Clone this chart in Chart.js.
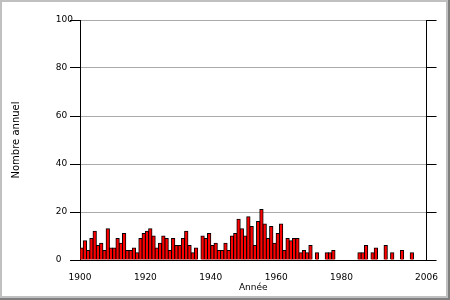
<!DOCTYPE html>
<html>
<head>
<meta charset="utf-8">
<script src="https://cdn.jsdelivr.net/npm/chart.js@4/dist/chart.umd.min.js"></script>
<style>
  html, body { margin: 0; padding: 0; background: #ffffff; }
  canvas { display: block; }
</style>
</head>
<body>
<canvas id="c" width="450" height="300"></canvas>
<script>
// Years with a non-zero count (all other years are 0)
const years = [1900,1901,1902,1903,1904,1905,1906,1907,1908,1909,
               1910,1911,1912,1913,1914,1915,1916,1917,1918,1919,
               1920,1921,1922,1923,1924,1925,1926,1927,1928,1929,
               1930,1931,1932,1933,1934,1935,1937,1938,1939,
               1940,1941,1942,1943,1944,1945,1946,1947,1948,1949,
               1950,1951,1952,1953,1954,1955,1956,1957,1958,1959,
               1960,1961,1962,1963,1964,1965,1966,1967,1968,1969,
               1970,1972,1975,1976,1977,
               1985,1986,1987,1989,1990,1993,1995,1998,2001];
const counts = [5,8,4,9,12,6,7,4,13,5,
                5,9,7,11,4,4,5,3,9,11,
                12,13,10,5,7,10,9,4,9,6,
                6,9,12,6,3,5,10,9,11,
                6,7,4,4,7,4,10,11,17,13,
                10,18,14,6,16,21,15,9,14,7,
                11,15,4,9,8,9,9,3,4,3,
                6,3,3,3,4,
                3,3,6,3,5,6,3,4,3];
const xTickLabels = [1900, 1920, 1940, 1960, 1980, 2006];
const yTickLabels = [0, 20, 40, 60, 80, 100];
const xTitle = 'Année';
const yTitle = 'Nombre annuel';

const points = years.map((y, i) => ({ x: y + 0.5, y: counts[i] }));

const framePlugin = {
  id: 'frame',
  beforeDraw(chart) {
    const ctx = chart.ctx;
    const W = chart.width, H = chart.height;
    ctx.save();
    ctx.fillStyle = '#ffffff';
    ctx.fillRect(0, 0, W, H);
    ctx.fillStyle = '#c0c0c0';
    ctx.fillRect(0, 0, W, 2);
    ctx.fillRect(0, 0, 2, H);
    ctx.fillRect(W - 4, 0, 2, H);
    ctx.fillRect(0, H - 4, W, 2);
    ctx.fillStyle = '#7f7f7f';
    ctx.fillRect(W - 2, 0, 2, H);
    ctx.fillRect(0, H - 2, W, 2);
    ctx.restore();
  }
};

const small = { family: 'DejaVu Sans', size: 9 };

new Chart(document.getElementById('c'), {
  type: 'bar',
  data: {
    datasets: [{
      data: points,
      backgroundColor: '#ff0000',
      borderColor: '#000000',
      borderWidth: 1,
      inflateAmount: 0.5,
      barPercentage: 1,
      categoryPercentage: 1,
      yAxisID: 'y'
    }]
  },
  options: {
    responsive: false,
    animation: false,
    devicePixelRatio: 1,
    layout: { padding: { top: 20, left: 0, right: 0, bottom: 0 } },
    plugins: { legend: { display: false }, tooltip: { enabled: false } },
    scales: {
      x: {
        type: 'linear',
        min: 1900,
        max: 2006,
        offset: false,
        grid: { display: false, drawTicks: false },
        border: { display: true, color: '#000000', width: 1 },
        afterBuildTicks: (s) => { s.ticks = xTickLabels.map(v => ({ value: v })); },
        afterFit: (s) => { s.height = 40; },
        ticks: {
          font: small, color: '#000000', padding: 12, maxRotation: 0, autoSkip: false,
          callback: (v) => String(v)
        },
        title: { display: true, text: xTitle, font: small, color: '#000000', padding: { top: 0, bottom: 7 } }
      },
      y: {
        type: 'linear',
        position: 'left',
        min: 0,
        max: 100,
        afterBuildTicks: (s) => { s.ticks = yTickLabels.map(v => ({ value: v })); },
        afterFit: (s) => { s.width = 80; },
        grid: {
          color: (c) => (c.tick && c.tick.value === 0 ? '#000000' : '#aaaaaa'),
          tickColor: '#000000',
          tickLength: 10,
          drawTicks: true
        },
        border: { display: true, color: '#000000', width: 1 },
        ticks: {
          font: small, color: '#000000', padding: -3,
          callback: (v) => String(v).padEnd(3, '\u2007')
        },
        title: { display: true, text: yTitle, font: { family: 'DejaVu Sans', size: 10 }, color: '#000000', padding: { top: 10, bottom: 0 } }
      },
      y2: {
        type: 'linear',
        position: 'right',
        min: 0,
        max: 100,
        afterBuildTicks: (s) => { s.ticks = yTickLabels.map(v => ({ value: v })); },
        afterFit: (s) => { s.width = 20; },
        grid: { drawOnChartArea: false, tickColor: '#000000', tickLength: 10, drawTicks: true },
        border: { display: true, color: '#000000', width: 1 },
        ticks: { display: false }
      }
    }
  },
  plugins: [framePlugin]
});
</script>
</body>
</html>
